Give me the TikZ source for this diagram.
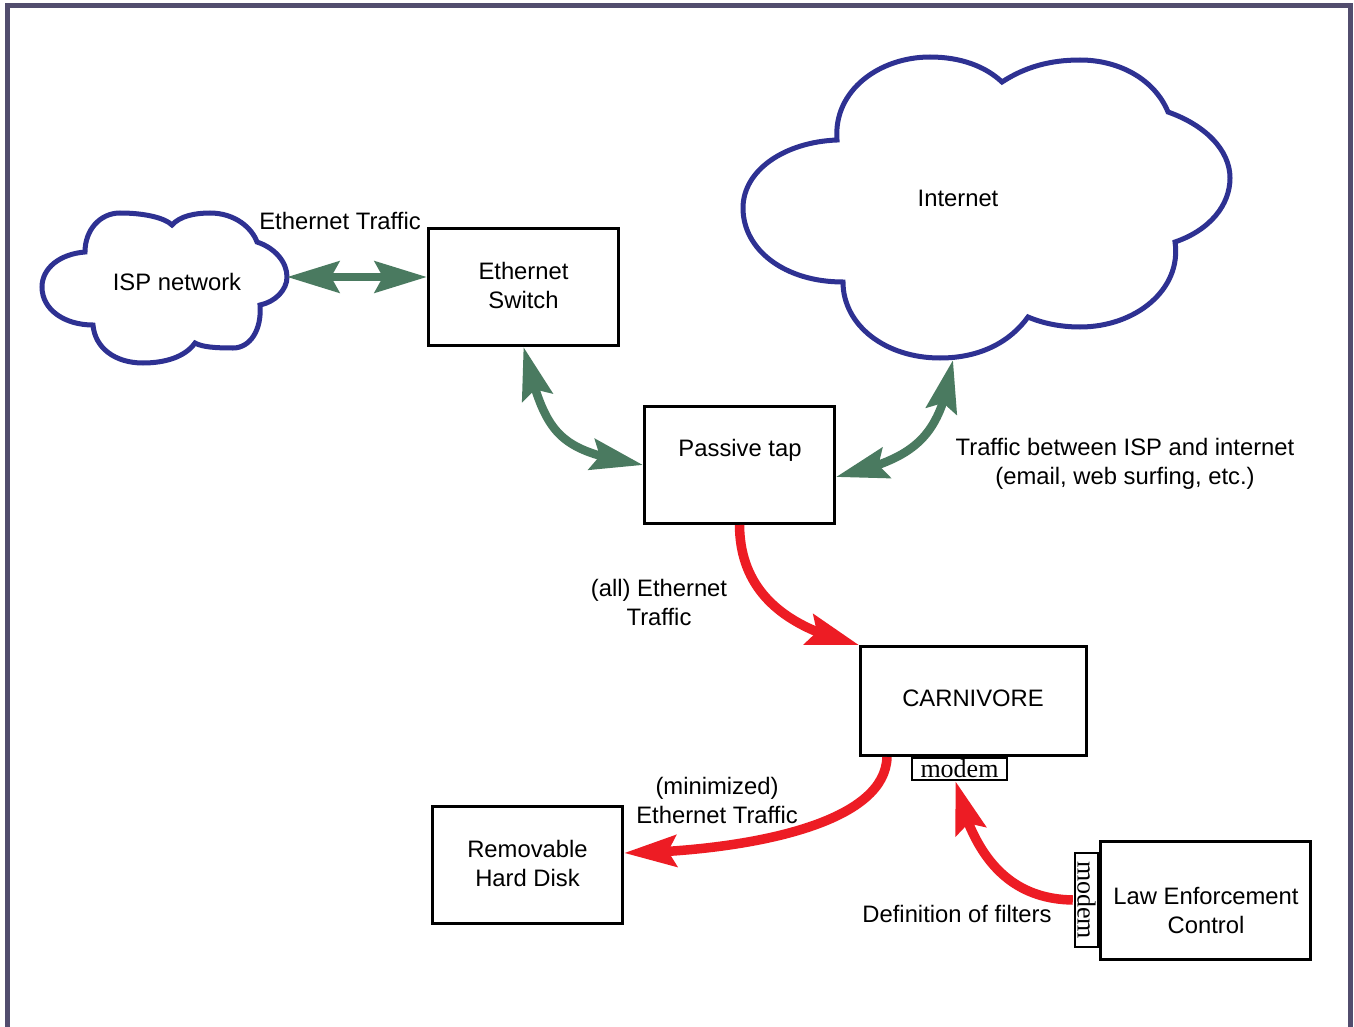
\documentclass[tikz,border=0pt]{standalone}
\usepackage{fontspec}
\setmainfont{Liberation Sans}
\newfontfamily\modemfont{Liberation Serif}
\usetikzlibrary{arrows.meta,bending}
\definecolor{cloudblue}{HTML}{2E3192}
\definecolor{tapgreen}{HTML}{4A7A60}
\definecolor{wirered}{HTML}{ED1C24}
\definecolor{framegray}{HTML}{524D6E}
\begin{document}
\begin{tikzpicture}[x=1pt,y=-1pt,
  every node/.style={font=\fontsize{23.8}{29}\selectfont,align=center,inner sep=0pt},
  box/.style={draw=black,line width=3pt,fill=white},
  modembox/.style={draw=black,line width=2.4pt,fill=white,font=\modemfont\fontsize{26}{26}\selectfont},
  cloudline/.style={draw=cloudblue,line width=5pt,fill=white},
  greenarrow/.style={draw=tapgreen,line width=8.5pt,{Stealth[length=52pt,width=31pt,inset=8pt]}-{Stealth[length=52pt,width=31pt,inset=8pt]}},
  redarrow/.style={draw=wirered,line width=9.5pt,-{Stealth[length=52pt,width=31pt,inset=8pt]}}
]
\useasboundingbox (0,0) rectangle (1354,1027);
\fill[white] (0,0) rectangle (1354,1027);
\draw[framegray,line width=5.5pt] (7.5,1040) -- (7.5,5.5) -- (1350.5,5.5) -- (1350.5,1040);

% clouds
\path[cloudline] (85,252) .. controls (85,230) and (100,213) .. (120,213)
  .. controls (145,213) and (165,218) .. (172,225)
  .. controls (180,216) and (195,213) .. (210,213)
  .. controls (235,213) and (252,228) .. (257,242)
  .. controls (275,248) and (287,262) .. (287,277)
  .. controls (287,290) and (275,302) .. (260,305)
  .. controls (262,330) and (250,348) .. (233,348)
  .. controls (215,348) and (202,347) .. (195,343)
  .. controls (185,357) and (165,363) .. (143,363)
  .. controls (115,363) and (95,348) .. (93,325)
  .. controls (65,325) and (42,310) .. (42,287)
  .. controls (42,268) and (60,254) .. (85,252) -- cycle;
\path[cloudline] (837,140) .. controls (833,90) and (880,57) .. (930,57)
  .. controls (960,57) and (985,66) .. (1002,82)
  .. controls (1025,67) and (1050,60) .. (1080,60)
  .. controls (1120,60) and (1155,80) .. (1168,112)
  .. controls (1205,125) and (1230,150) .. (1230,178)
  .. controls (1230,205) and (1210,230) .. (1175,242)
  .. controls (1182,290) and (1135,327) .. (1080,327)
  .. controls (1060,327) and (1042,323) .. (1028,317)
  .. controls (1010,342) and (980,358) .. (940,358)
  .. controls (885,358) and (843,325) .. (843,282)
  .. controls (785,282) and (743,250) .. (743,208)
  .. controls (743,170) and (785,142) .. (837,140) -- cycle;
\node (isp) at (177,282) {ISP network};
\node (inet) at (958,198) {Internet};
\coordinate (ispE) at (287,277);
\coordinate (inetS) at (953,360);

% boxes
\node[box,minimum width=190pt,minimum height=117pt] (sw) at (523.5,287) {};
\node (swtext) at (523.5,285) {Ethernet\\Switch};
\node[box,minimum width=190pt,minimum height=117pt] (tap) at (739.5,465) {};
\node (taptext) at (740,450) {Passive tap};
\node[box,minimum width=226pt,minimum height=109pt] (carn) at (973.5,701) {};
\node (carntext) at (973,698) {CARNIVORE};
\node[box,minimum width=190pt,minimum height=117pt] (hd) at (527.5,865) {};
\node (hdtext) at (527.5,863.5) {Removable\\Hard Disk};
\node[box,minimum width=210pt,minimum height=118pt] (law) at (1205.5,900.5) {};
\node (lawtext) at (1206,910) {Law Enforcement\\Control};
\node[modembox,minimum width=95pt,minimum height=22pt] (mA) at (959.5,769) {modem};
\node[modembox,minimum width=94pt,minimum height=23pt,rotate=-90] (mB) at (1086.5,900) {modem};

% labels
\node (l1) at (340,221) {Ethernet Traffic};
\node (l2) at (1125,464) {Traffic between ISP and internet\\(email, web surfing, etc.)};
\node (l3) at (659,602) {(all) Ethernet\\Traffic};
\node (l4) at (717,800) {(minimized)\\Ethernet Traffic};
\node (l5) at (957,914) {Definition of filters};

% connectors
\draw[greenarrow] (ispE) -- ([yshift=10pt]sw.west);
\draw[greenarrow] (sw.south) .. controls (546,435) and (555,450) .. (tap.west);
\draw[greenarrow] ([yshift=-12pt]tap.east) .. controls (916,458) and (940,439) .. (inetS);
\draw[redarrow] (tap.south) .. controls (740,595) and (790,629) .. (carn.north west);
\draw[redarrow] ([xshift=28pt]carn.south west) .. controls (885,830) and (725,852) .. ([yshift=12pt]hd.east);
\draw[redarrow] ([xshift=-1pt]mB.south) .. controls (1010,899) and (973,858) .. ([xshift=-4pt]mA.south);
\end{tikzpicture}
\end{document}
